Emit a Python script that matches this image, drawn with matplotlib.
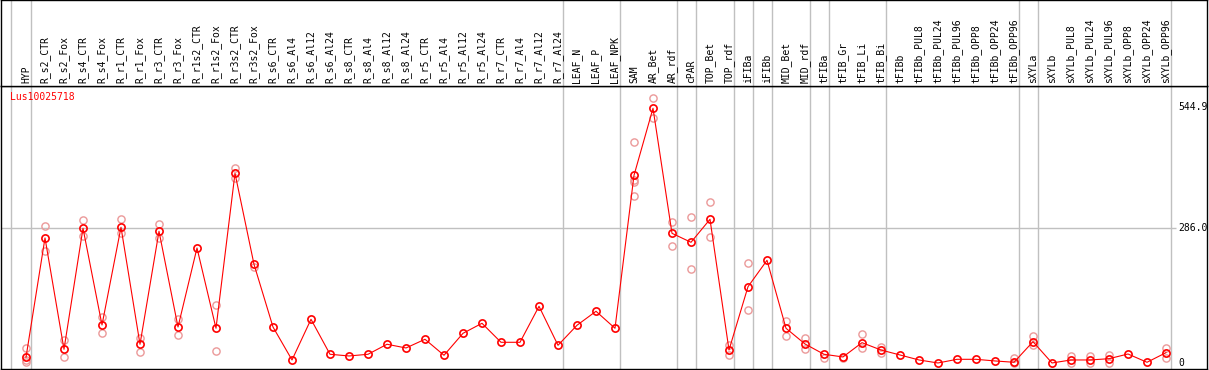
import matplotlib.pyplot as plt

# sample names along the x axis
samples = ['HYP', 'R_s2_CTR', 'R_s2_Fox', 'R_s4_CTR', 'R_s4_Fox', 'R_r1_CTR', 'R_r1_Fox',
           'R_r3_CTR', 'R_r3_Fox', 'R_r1s2_CTR', 'R_r1s2_Fox', 'R_r3s2_CTR', 'R_r3s2_Fox',
           'R_s6_CTR', 'R_s6_Al4', 'R_s6_Al12', 'R_s6_Al24', 'R_s8_CTR', 'R_s8_Al4',
           'R_s8_Al12', 'R_s8_Al24', 'R_r5_CTR', 'R_r5_Al4', 'R_r5_Al12', 'R_r5_Al24',
           'R_r7_CTR', 'R_r7_Al4', 'R_r7_Al12', 'R_r7_Al24', 'LEAF_N', 'LEAF_P', 'LEAF_NPK',
           'SAM', 'AR_Bet', 'AR_rdf', 'cPAR', 'TOP_Bet', 'TOP_rdf', 'iFIBa', 'iFIBb',
           'MID_Bet', 'MID_rdf', 'tFIBa', 'tFIB_Gr', 'tFIB_Li', 'tFIB_Bi', 'tFIBb',
           'tFIBb_PUL8', 'tFIBb_PUL24', 'tFIBb_PUL96', 'tFIBb_OPP8', 'tFIBb_OPP24',
           'tFIBb_OPP96', 'sXYLa', 'sXYLb', 'sXYLb_PUL8', 'sXYLb_PUL24', 'sXYLb_PUL96',
           'sXYLb_OPP8', 'sXYLb_OPP24', 'sXYLb_OPP96']

# mean expression per sample
means = [12.1, 265.8, 29.1, 286.4, 80.8, 288.5, 39.8, 280.0, 76.5, 244.5, 73.8, 403.3, 209.8,
         76.5, 6.4, 92.9, 18.5, 14.9, 18.5, 39.8, 31.9, 50.4, 16.4, 63.1, 84.4,
         44.0, 44.0, 120.5, 37.6, 80.2, 109.9, 73.8,
         399.0, 541.5, 275.7, 256.6, 305.5, 27.6, 162.2, 218.3, 73.8, 40.4,
         18.5, 12.8, 43.2, 27.6, 17.0, 6.4, 0.0, 7.8, 7.8, 4.3, 1.5,
         45.3, 0.0, 6.4, 6.4, 9.1, 19.1, 1.5, 21.9]

# replicate values (light circles)
reps = [[31.3, 6.4, 2.8], [290.6, 237.5], [48.9, 12.1], [304.0, 270.0], [98.4, 63.1],
        [306.1, 275.7], [53.8, 24.0], [295.5, 265.1], [92.9, 58.9], [], [123.3, 24.9],
        [415.2, 392.7], [205.0],
        [], [], [], [], [], [], [], [], [], [], [], [], [], [], [], [], [], [], [],
        [469.2, 389.0, 384.2, 355.7], [562.8, 520.2], [300.4, 249.4], [311.0, 200.5],
        [341.6, 268.5], [38.3, 17.0], [212.0, 112.0], [], [89.3, 58.0], [52.5, 29.1],
        [11.3], [9.6], [61.0, 31.3], [34.7, 21.9], [], [], [], [], [], [], [10.0, 0.0],
        [57.4, 38.3], [], [14.9, 0.0], [14.9, 0.0], [17.0, 0.0], [], [], [31.3, 10.0]]

# group separators come after these samples
breaks = ['HYP', 'R_r7_Al24', 'LEAF_NPK', 'AR_rdf', 'cPAR', 'TOP_rdf', 'iFIBa', 'iFIBb',
          'MID_rdf', 'tFIBa', 'tFIB_Bi', 'tFIBb_OPP96', 'sXYLa', 'sXYLb_OPP96']

gene = 'Lus10025718'
ytick_vals = [544.9, 286.0, 0]
ytick_labels = ['544.9', '286.0', '0']

W, H = 1209, 370
fig = plt.figure(figsize=(W / 100, H / 100), dpi=100)
font = dict(family='DejaVu Sans Mono', size=7)

x = list(range(len(samples)))
xlim = ((1 - 26) / 19, (1207 - 26) / 19)

ax = fig.add_axes([1 / W, 1 / H, 1206 / W, 283 / H])
axh = fig.add_axes([1 / W, (H - 85.5) / H, 1206 / W, 85.5 / H])

for a in (ax, axh):
    a.set_xlim(xlim)
    a.set_xticks([])
    a.set_yticks([])
    for s in a.spines.values():
        s.set_color('black')
        s.set_linewidth(1)
ax.set_ylim(-12.8, 588.9)
axh.set_ylim(0, 1)

# vertical separators (through both header and plot)
seps = [-0.8] + [samples.index(b) + 0.25 for b in breaks]
for a in (ax, axh):
    for s in seps:
        a.axvline(s, color='#c0c0c0', lw=1, zorder=0)

ax.hlines(ytick_vals[1], xlim[0], 60.5, color='#c0c0c0', lw=1, zorder=0)

# replicates
for i, r in enumerate(reps):
    if r:
        ax.plot([i] * len(r), r, 'o', ms=5.2, mfc='none', mec='#eb9999', mew=1, zorder=1)

ax.plot(x, means, '-', color='red', lw=0.8, zorder=2)
ax.plot(x, means, 'o', ms=5.2, mfc='none', mec='red', mew=1.2, zorder=3)

for v, lab in zip(ytick_vals, ytick_labels):
    ax.text(60.63, v, lab, ha='left', va='center', clip_on=True, **font)

ax.text(9 / 1206, 0.961, gene, color='red', ha='left', va='center',
        transform=ax.transAxes, **font)

for i, name in enumerate(samples):
    axh.text(i, 0.03, name, rotation=90, ha='center', va='bottom', **font)

fig.savefig('out.png', dpi=100)
